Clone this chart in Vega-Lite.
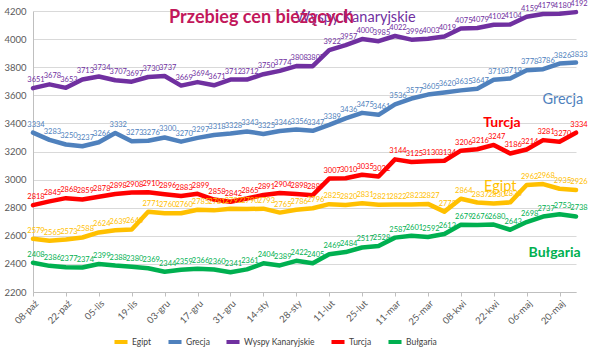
{
  "$schema": "https://vega.github.io/schema/vega-lite/v6.json",
  "width": 543,
  "height": 281,
  "padding": {"left": 3, "top": 0, "right": 5, "bottom": 0},
  "autosize": {"type": "pad"},
  "config": {"font": "Lato", "view": {"stroke": null}, "axis": {"labelOverlap": false, "labelFlush": false}},
  "title": {"text": "Przebieg cen bieżących", "fontSize": 18, "fontWeight": "bold", "color": "#C2185B", "font": "Lato", "anchor": "middle", "offset": -27, "dx": -43},
  "datasets": {
    "main": [
      {"w": 0, "Egipt": 2579, "Grecja": 3334, "Wyspy Kanaryjskie": 3651, "Turcja": 2818, "Bułgaria": 2408},
      {"w": 1, "Egipt": 2565, "Grecja": 3283, "Wyspy Kanaryjskie": 3678, "Turcja": 2845, "Bułgaria": 2386},
      {"w": 2, "Egipt": 2573, "Grecja": 3250, "Wyspy Kanaryjskie": 3653, "Turcja": 2868, "Bułgaria": 2377},
      {"w": 3, "Egipt": 2588, "Grecja": 3237, "Wyspy Kanaryjskie": 3713, "Turcja": 2859, "Bułgaria": 2374},
      {"w": 4, "Egipt": 2624, "Grecja": 3266, "Wyspy Kanaryjskie": 3734, "Turcja": 2878, "Bułgaria": 2399},
      {"w": 5, "Egipt": 2639, "Grecja": 3332, "Wyspy Kanaryjskie": 3707, "Turcja": 2898, "Bułgaria": 2388},
      {"w": 6, "Egipt": 2645, "Grecja": 3273, "Wyspy Kanaryjskie": 3697, "Turcja": 2908, "Bułgaria": 2380},
      {"w": 7, "Egipt": 2771, "Grecja": 3276, "Wyspy Kanaryjskie": 3730, "Turcja": 2910, "Bułgaria": 2369},
      {"w": 8, "Egipt": 2760, "Grecja": 3300, "Wyspy Kanaryjskie": 3737, "Turcja": 2896, "Bułgaria": 2344},
      {"w": 9, "Egipt": 2760, "Grecja": 3270, "Wyspy Kanaryjskie": 3669, "Turcja": 2883, "Bułgaria": 2359},
      {"w": 10, "Egipt": 2785, "Grecja": 3297, "Wyspy Kanaryjskie": 3694, "Turcja": 2899, "Bułgaria": 2366},
      {"w": 11, "Egipt": 2781, "Grecja": 3318, "Wyspy Kanaryjskie": 3671, "Turcja": 2858, "Bułgaria": 2360},
      {"w": 12, "Egipt": 2792, "Grecja": 3328, "Wyspy Kanaryjskie": 3712, "Turcja": 2842, "Bułgaria": 2341},
      {"w": 13, "Egipt": 2790, "Grecja": 3343, "Wyspy Kanaryjskie": 3712, "Turcja": 2865, "Bułgaria": 2361},
      {"w": 14, "Egipt": 2793, "Grecja": 3325, "Wyspy Kanaryjskie": 3750, "Turcja": 2891, "Bułgaria": 2404},
      {"w": 15, "Egipt": 2765, "Grecja": 3346, "Wyspy Kanaryjskie": 3774, "Turcja": 2904, "Bułgaria": 2389},
      {"w": 16, "Egipt": 2786, "Grecja": 3356, "Wyspy Kanaryjskie": 3808, "Turcja": 2898, "Bułgaria": 2422},
      {"w": 17, "Egipt": 2796, "Grecja": 3347, "Wyspy Kanaryjskie": 3807, "Turcja": 2889, "Bułgaria": 2405},
      {"w": 18, "Egipt": 2825, "Grecja": 3389, "Wyspy Kanaryjskie": 3922, "Turcja": 3007, "Bułgaria": 2469},
      {"w": 19, "Egipt": 2820, "Grecja": 3436, "Wyspy Kanaryjskie": 3957, "Turcja": 3010, "Bułgaria": 2484},
      {"w": 20, "Egipt": 2831, "Grecja": 3475, "Wyspy Kanaryjskie": 4000, "Turcja": 3035, "Bułgaria": 2517},
      {"w": 21, "Egipt": 2821, "Grecja": 3461, "Wyspy Kanaryjskie": 3985, "Turcja": 3022, "Bułgaria": 2528},
      {"w": 22, "Egipt": 2822, "Grecja": 3536, "Wyspy Kanaryjskie": 4022, "Turcja": 3144, "Bułgaria": 2587},
      {"w": 23, "Egipt": 2823, "Grecja": 3577, "Wyspy Kanaryjskie": 3996, "Turcja": 3125, "Bułgaria": 2601},
      {"w": 24, "Egipt": 2827, "Grecja": 3605, "Wyspy Kanaryjskie": 4003, "Turcja": 3130, "Bułgaria": 2592},
      {"w": 25, "Egipt": 2772, "Grecja": 3620, "Wyspy Kanaryjskie": 4019, "Turcja": 3134, "Bułgaria": 2613},
      {"w": 26, "Egipt": 2864, "Grecja": 3635, "Wyspy Kanaryjskie": 4075, "Turcja": 3206, "Bułgaria": 2679},
      {"w": 27, "Egipt": 2837, "Grecja": 3647, "Wyspy Kanaryjskie": 4079, "Turcja": 3216, "Bułgaria": 2676},
      {"w": 28, "Egipt": 2830, "Grecja": 3710, "Wyspy Kanaryjskie": 4102, "Turcja": 3247, "Bułgaria": 2680},
      {"w": 29, "Egipt": 2838, "Grecja": 3719, "Wyspy Kanaryjskie": 4104, "Turcja": 3186, "Bułgaria": 2643},
      {"w": 30, "Egipt": 2962, "Grecja": 3778, "Wyspy Kanaryjskie": 4159, "Turcja": 3214, "Bułgaria": 2698},
      {"w": 31, "Egipt": 2968, "Grecja": 3786, "Wyspy Kanaryjskie": 4179, "Turcja": 3281, "Bułgaria": 2737},
      {"w": 32, "Egipt": 2935, "Grecja": 3826, "Wyspy Kanaryjskie": 4180, "Turcja": 3270, "Bułgaria": 2753},
      {"w": 33, "Egipt": 2926, "Grecja": 3833, "Wyspy Kanaryjskie": 4192, "Turcja": 3334, "Bułgaria": 2738}
    ],
    "ann": [
      {"s": "Wyspy Kanaryjskie", "w": 19.6, "v": 4150},
      {"s": "Grecja", "w": 32.2, "v": 3570},
      {"s": "Turcja", "w": 28.5, "v": 3400},
      {"s": "Egipt", "w": 28.4, "v": 2950},
      {"s": "Bułgaria", "w": 31.7, "v": 2478}
    ]
  },
  "layer": [
    {
      "data": {"name": "main"},
      "transform": [{"fold": ["Egipt", "Grecja", "Wyspy Kanaryjskie", "Turcja", "Bułgaria"], "as": ["s", "v"]}],
      "mark": {"type": "line", "strokeWidth": 4.5, "strokeCap": "round", "strokeJoin": "round"},
      "encoding": {
        "x": {"field": "w", "type": "quantitative", "scale": {"domain": [0, 33], "nice": false, "zero": false},
          "axis": {"values": [0, 2, 4, 6, 8, 10, 12, 14, 16, 18, 20, 22, 24, 26, 28, 30, 32], "tickCount": 40,
            "labelExpr": "['08-paź','22-paź','05-lis','19-lis','03-gru','17-gru','31-gru','14-sty','28-sty','11-lut','25-lut','11-mar','25-mar','08-kwi','22-kwi','06-maj','20-maj'][datum.value/2]",
            "labelOverlap": false, "labelAngle": -45, "grid": false, "title": null, "tickSize": 4, "domainColor": "#BFBFBF", "tickColor": "#BFBFBF", "labelFontSize": 9.5, "labelColor": "#595959", "labelPadding": 2}},
        "y": {"field": "v", "type": "quantitative", "scale": {"domain": [2200, 4200], "nice": false, "zero": false},
          "axis": {"values": [2200, 2400, 2600, 2800, 3000, 3200, 3400, 3600, 3800, 4000, 4200], "tickCount": 40, "labelOverlap": false, "format": "d", "title": null, "gridColor": "#D9D9D9", "domainColor": "#BFBFBF", "ticks": false, "labelFontSize": 9.5, "labelColor": "#595959", "labelPadding": 7}},
        "color": {"field": "s", "type": "nominal",
          "scale": {"domain": ["Egipt", "Grecja", "Wyspy Kanaryjskie", "Turcja", "Bułgaria"], "range": ["#FFC000", "#4F81BD", "#7030A0", "#FF0000", "#00B050"]},
          "legend": {"orient": "none", "legendX": 79, "legendY": 322, "direction": "horizontal", "title": null, "symbolType": "stroke", "symbolStrokeWidth": 4, "symbolSize": 170, "labelFontSize": 8.5, "labelColor": "#404040", "columnPadding": 8, "labelOffset": 2}}
      }
    },
    {
      "data": {"name": "main"},
      "transform": [{"fold": ["Egipt", "Grecja", "Wyspy Kanaryjskie", "Turcja", "Bułgaria"], "as": ["s", "v"]}],
      "mark": {"type": "text", "dy": -8, "fontSize": 7.5, "dx": 3},
      "encoding": {
        "x": {"field": "w", "type": "quantitative"},
        "y": {"field": "v", "type": "quantitative"},
        "text": {"field": "v", "type": "quantitative"},
        "color": {"field": "s", "type": "nominal", "legend": null}
      }
    },
    {
      "data": {"name": "ann"},
      "transform": [{"filter": "datum.s === 'Turcja' || datum.s === 'Bułgaria'"}],
      "mark": {"type": "text", "fontSize": 14, "fontWeight": "bold", "baseline": "middle"},
      "encoding": {
        "x": {"field": "w", "type": "quantitative"},
        "y": {"field": "v", "type": "quantitative"},
        "text": {"field": "s"},
        "color": {"field": "s", "type": "nominal", "legend": null}
      }
    },
    {
      "data": {"name": "ann"},
      "transform": [{"filter": "datum.s !== 'Turcja' && datum.s !== 'Bułgaria'"}],
      "mark": {"type": "text", "fontSize": 14.5, "baseline": "middle"},
      "encoding": {
        "x": {"field": "w", "type": "quantitative"},
        "y": {"field": "v", "type": "quantitative"},
        "text": {"field": "s"},
        "color": {"field": "s", "type": "nominal", "legend": null}
      }
    }
  ]
}
